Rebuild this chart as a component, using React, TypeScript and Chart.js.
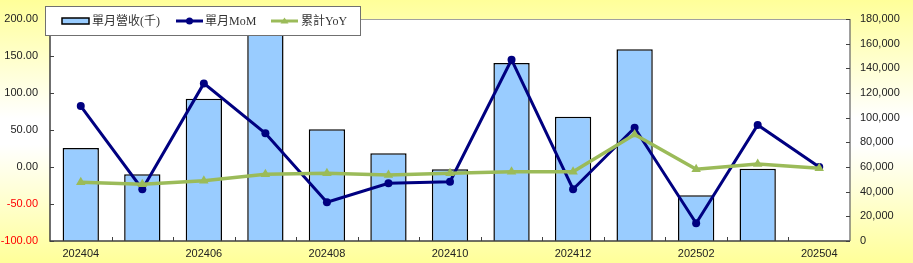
import React, { useEffect, useRef } from "react";
import { Chart, registerables } from "chart.js";

Chart.register(...registerables);

const months = ["202404", "202405", "202406", "202407", "202408", "202409", "202410", "202411", "202412", "202501", "202502", "202503", "202504"];
const revenue: (number | null)[] = [75400, 54100, 115400, 190000, 90600, 71100, 58100, 144300, 100800, 155400, 37000, 58600, null];
const mom = [82.4, -30, 113, 45.5, -47.7, -22, -19.8, 145, -30, 53, -76, 56.8, 0];
const yoy = [-20.7, -23.4, -18.5, -9.9, -8.5, -10.8, -8.5, -6.3, -6.3, 44, -3, 4, -1.8];
const leftRange = { min: -100, max: 200, step: 50 };
const rightRange = { min: 0, max: 180000, step: 20000 };
const legendLabels = ["單月營收(千)", "單月MoM", "累計YoY"];

const BAR_FILL = "#99CCFF";
const NAVY = "#000080";
const GREEN = "#9BBB59";
const YELLOW = "#FFFF99";

const decorPlugin = {
  id: "decor",
  beforeDraw(chart: any) {
    const { ctx, width, height, chartArea } = chart;
    ctx.save();
    const g = ctx.createLinearGradient(0, 0, 0, height);
    g.addColorStop(0, YELLOW);
    g.addColorStop(0.45, "#FFFFFF");
    g.addColorStop(0.55, "#FFFFFF");
    g.addColorStop(1, YELLOW);
    ctx.fillStyle = g;
    ctx.fillRect(0, 0, width, height);
    ctx.fillStyle = "#FFFFFF";
    ctx.fillRect(chartArea.left, chartArea.top, chartArea.right - chartArea.left, chartArea.bottom - chartArea.top);
    ctx.restore();
  },
  afterDraw(chart: any) {
    const { ctx, chartArea } = chart;
    const { left, right, top, bottom } = chartArea;
    ctx.save();
    // top border
    ctx.strokeStyle = "#A0A0A0";
    ctx.lineWidth = 1;
    ctx.beginPath();
    ctx.moveTo(left, top + 0.5);
    ctx.lineTo(right, top + 0.5);
    ctx.stroke();
    // axes
    ctx.strokeStyle = "#404040";
    ctx.lineWidth = 1.5;
    ctx.beginPath();
    ctx.moveTo(left, top);
    ctx.lineTo(left, bottom);
    ctx.lineTo(right, bottom);
    ctx.stroke();
    ctx.strokeStyle = "#606060";
    ctx.lineWidth = 1.2;
    ctx.beginPath();
    ctx.moveTo(right, top);
    ctx.lineTo(right, bottom);
    ctx.stroke();
    // tick marks
    ctx.lineWidth = 1;
    ctx.strokeStyle = "#404040";
    const ys = chart.scales.y;
    ys.ticks.forEach((t: any) => {
      const py = Math.round(ys.getPixelForValue(t.value)) + 0.5;
      ctx.beginPath();
      ctx.moveTo(left, py);
      ctx.lineTo(left + 4, py);
      ctx.stroke();
    });
    const y1 = chart.scales.y1;
    y1.ticks.forEach((t: any) => {
      const py = Math.round(y1.getPixelForValue(t.value)) + 0.5;
      ctx.beginPath();
      ctx.moveTo(right, py);
      ctx.lineTo(right - 4, py);
      ctx.stroke();
    });
    const xs = chart.scales.x;
    for (let i = 1; i < months.length; i++) {
      const px = Math.round((xs.getPixelForValue(i - 1) + xs.getPixelForValue(i)) / 2) + 0.5;
      ctx.beginPath();
      ctx.moveTo(px, bottom);
      ctx.lineTo(px, bottom - 4);
      ctx.stroke();
    }
    // legend
    const lx = 45, ly = 6, lw = 315, lh = 29;
    ctx.fillStyle = "#FFFFFF";
    ctx.fillRect(lx, ly, lw, lh);
    ctx.strokeStyle = "#707070";
    ctx.lineWidth = 1;
    ctx.strokeRect(lx + 0.5, ly + 0.5, lw, lh);
    const cy = 21;
    // bar swatch
    ctx.fillStyle = BAR_FILL;
    ctx.fillRect(62, cy - 3, 27, 6);
    ctx.strokeStyle = "#000";
    ctx.lineWidth = 1.5;
    ctx.strokeRect(62, cy - 3, 27, 6);
    // navy swatch
    ctx.strokeStyle = NAVY;
    ctx.lineWidth = 3;
    ctx.beginPath();
    ctx.moveTo(176, cy);
    ctx.lineTo(203, cy);
    ctx.stroke();
    ctx.fillStyle = NAVY;
    ctx.beginPath();
    ctx.arc(189.5, cy, 3.5, 0, Math.PI * 2);
    ctx.fill();
    // green swatch
    ctx.strokeStyle = GREEN;
    ctx.beginPath();
    ctx.moveTo(271, cy);
    ctx.lineTo(298, cy);
    ctx.stroke();
    ctx.fillStyle = GREEN;
    ctx.beginPath();
    ctx.moveTo(284.5, cy - 3.5);
    ctx.lineTo(288.5, cy + 2.5);
    ctx.lineTo(280.5, cy + 2.5);
    ctx.closePath();
    ctx.fill();
    ctx.fillStyle = "#333333";
    ctx.font = '12px "Liberation Serif", "Noto Sans CJK TC", serif';
    ctx.textBaseline = "middle";
    ctx.textAlign = "left";
    ctx.fillText(legendLabels[0], 92, cy + 1);
    ctx.fillText(legendLabels[1], 205, cy + 1);
    ctx.fillText(legendLabels[2], 301, cy + 1);
    ctx.restore();
  },
};

export default function App() {
  const ref = useRef<HTMLCanvasElement | null>(null);
  useEffect(() => {
    if (!ref.current) return;
    const tickFont = { family: '"Liberation Sans", Arial, sans-serif', size: 11 };
    const chart = new Chart(ref.current, {
      type: "bar",
      data: {
        labels: months,
        datasets: [
          {
            type: "line",
            label: legendLabels[2],
            data: yoy,
            yAxisID: "y",
            borderColor: GREEN,
            backgroundColor: GREEN,
            borderWidth: 3.5,
            pointStyle: "triangle",
            pointRadius: 5.5,
            pointBorderWidth: 0,
            tension: 0,
            order: 1,
          } as any,
          {
            type: "line",
            label: legendLabels[1],
            data: mom,
            yAxisID: "y",
            borderColor: NAVY,
            backgroundColor: NAVY,
            borderWidth: 3,
            pointRadius: 4,
            pointBorderWidth: 0,
            tension: 0,
            order: 2,
          } as any,
          {
            type: "bar",
            label: legendLabels[0],
            data: revenue,
            yAxisID: "y1",
            backgroundColor: BAR_FILL,
            borderColor: "#000000",
            borderWidth: 1.5,
            barPercentage: 0.59,
            categoryPercentage: 1,
            order: 3,
          } as any,
        ],
      },
      options: {
        animation: false,
        responsive: false,
        devicePixelRatio: 1,
        layout: { padding: { top: 19, left: 0, right: 0, bottom: 0 } },
        plugins: { legend: { display: false }, tooltip: { enabled: false } },
        scales: {
          x: {
            grid: { display: false, drawTicks: false },
            border: { display: false },
            ticks: {
              autoSkip: false,
              maxRotation: 0,
              padding: 6,
              color: "#222222",
              font: tickFont,
              callback: (_v: any, i: number) => (i % 2 === 0 ? months[i] : ""),
            },
            afterFit: (s: any) => {
              s.height = 22;
            },
          },
          y: {
            position: "left",
            min: leftRange.min,
            max: leftRange.max,
            grid: { display: false, drawTicks: false },
            border: { display: false },
            ticks: {
              stepSize: leftRange.step,
              padding: 12,
              font: tickFont,
              color: (c: any) => (c.tick && c.tick.value < 0 ? "#FF0000" : "#222222"),
              callback: (v: any) => Number(v).toFixed(2),
            },
            afterFit: (s: any) => {
              s.width = 50;
            },
          },
          y1: {
            position: "right",
            min: rightRange.min,
            max: rightRange.max,
            grid: { display: false, drawTicks: false },
            border: { display: false },
            ticks: {
              stepSize: rightRange.step,
              padding: 10,
              font: tickFont,
              color: "#222222",
              callback: (v: any) => Number(v).toLocaleString("en-US"),
            },
            afterFit: (s: any) => {
              s.width = 63;
            },
          },
        },
      },
      plugins: [decorPlugin],
    });
    return () => chart.destroy();
  }, []);
  return (
    <div style={{ position: "fixed", left: 0, top: 0, width: 913, height: 263 }}>
      <canvas ref={ref} width={913} height={263} style={{ display: "block", width: 913, height: 263 }} />
    </div>
  );
}
